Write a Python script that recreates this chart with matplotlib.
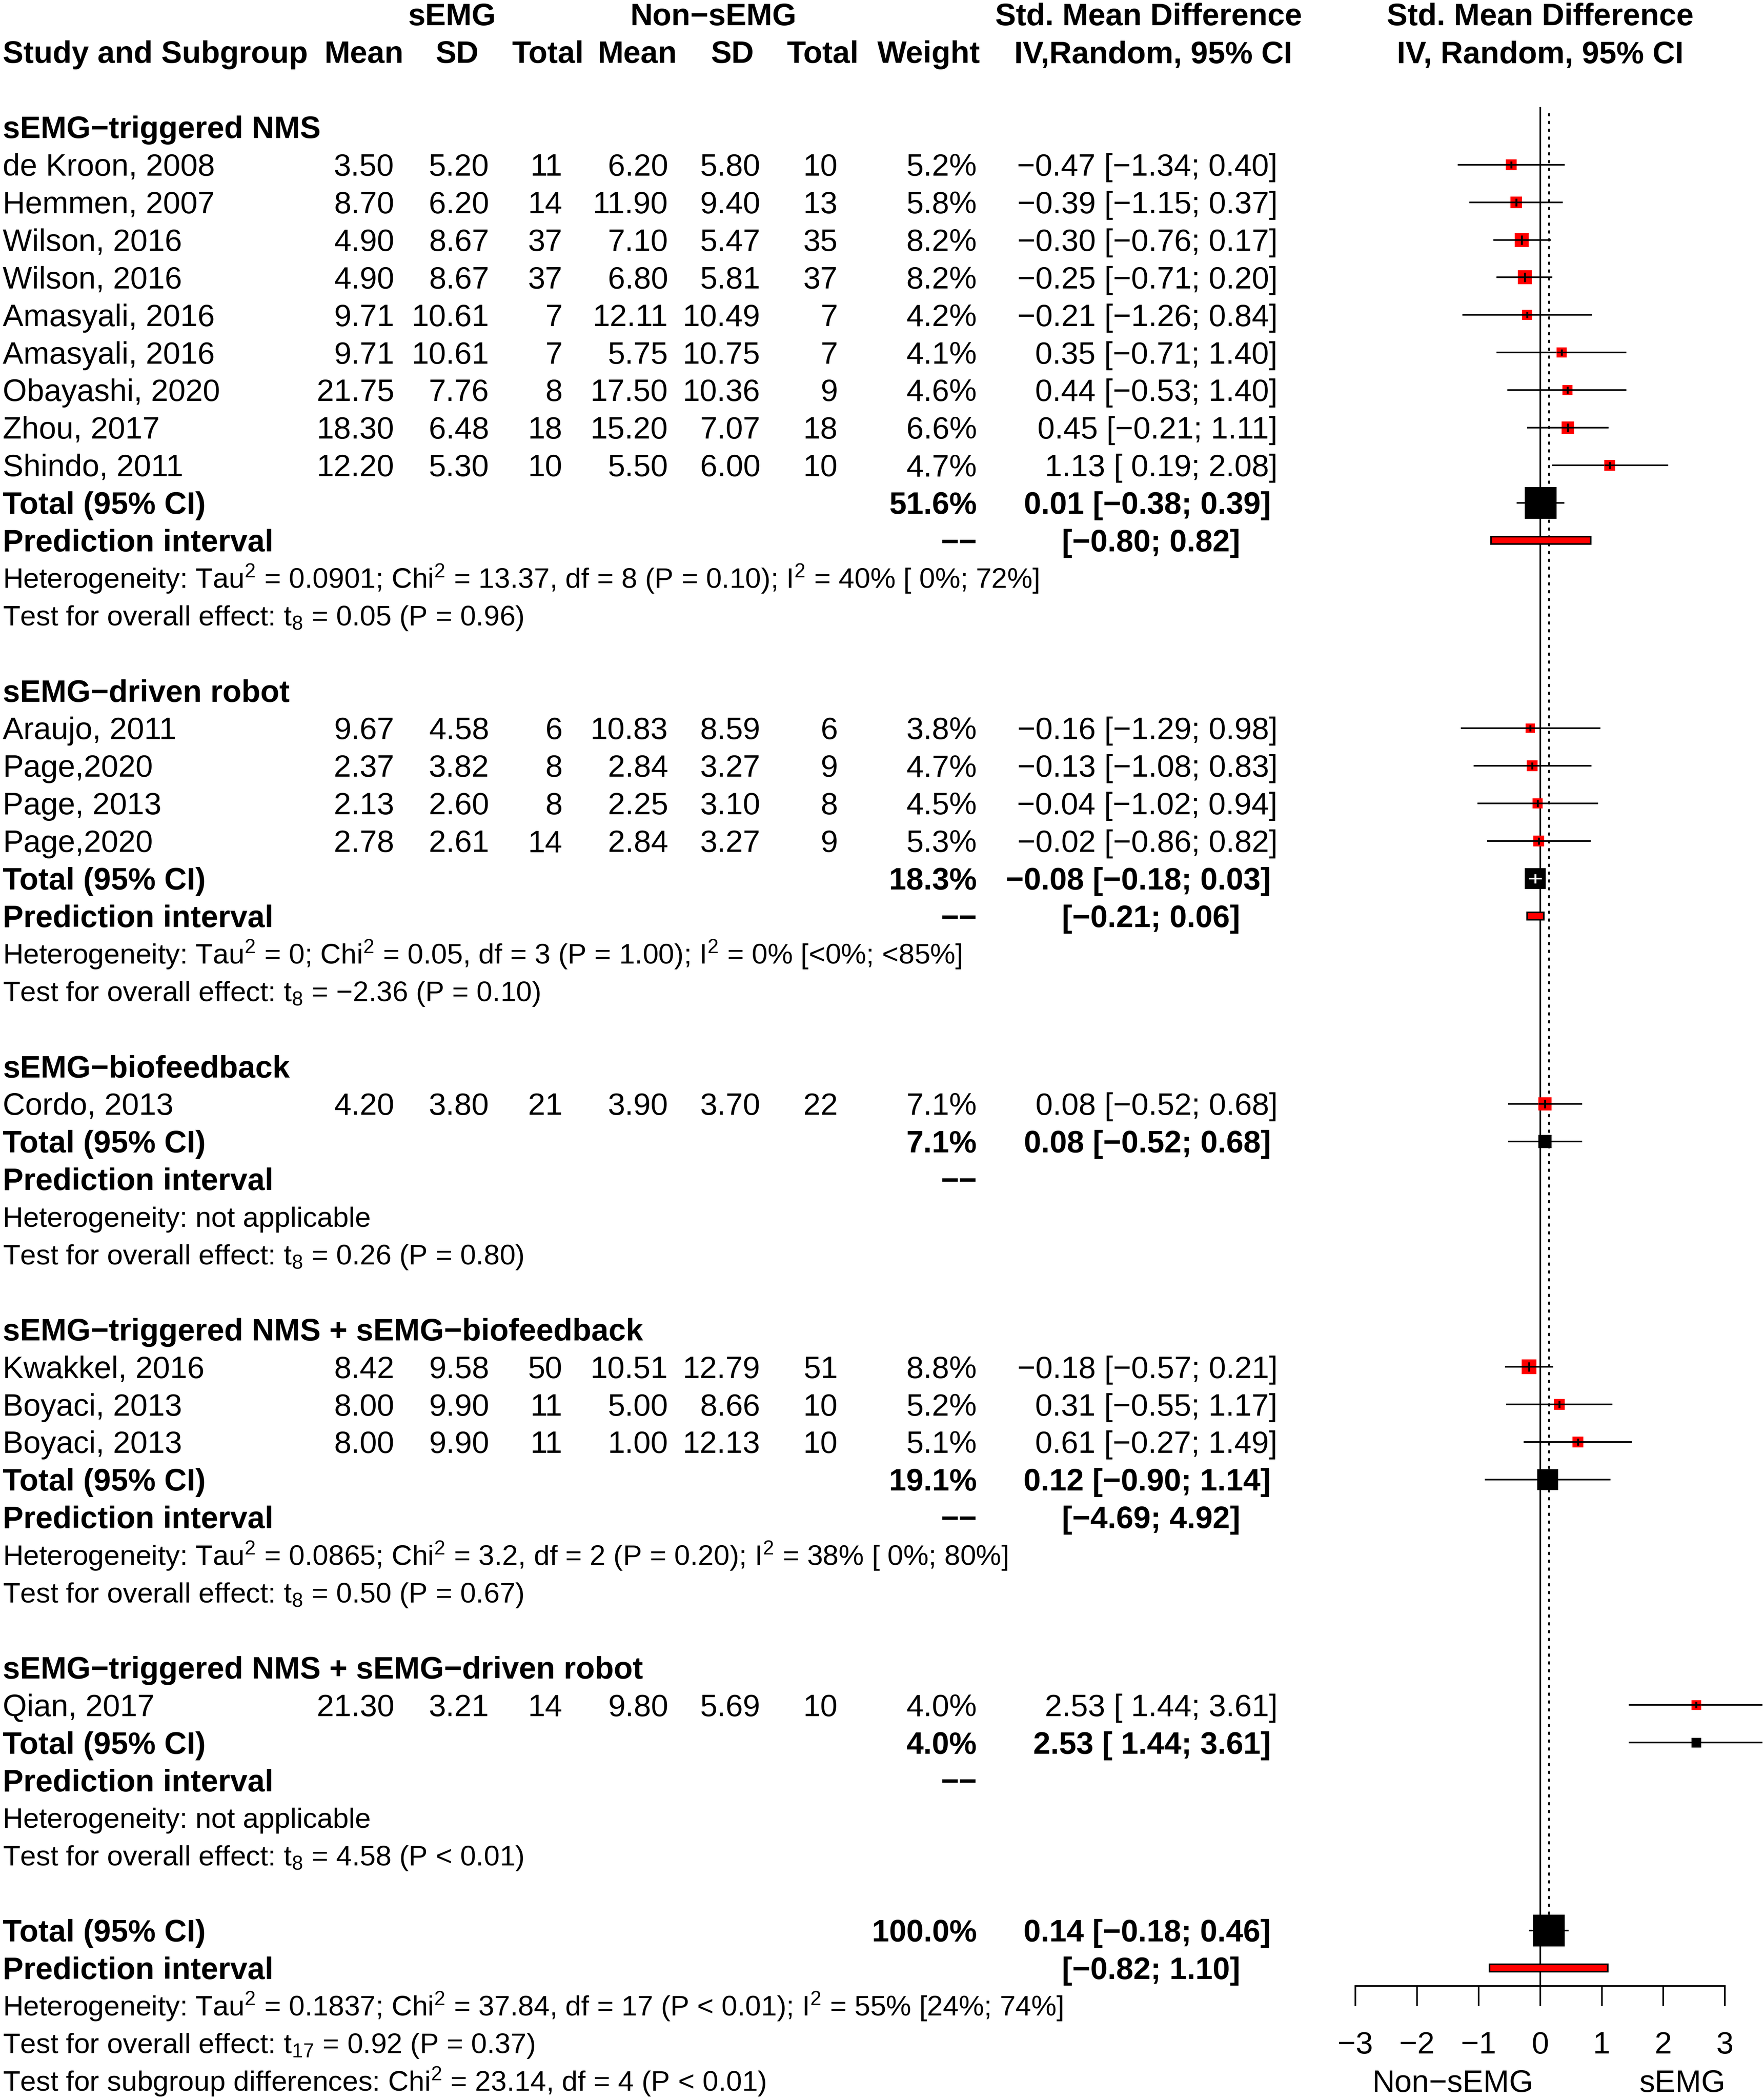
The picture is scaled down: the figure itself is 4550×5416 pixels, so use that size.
import math
import matplotlib
matplotlib.use('Agg')
import matplotlib.pyplot as plt
from matplotlib.patches import Rectangle
from matplotlib import font_manager as fm

# ---------------- data ----------------
group_labels = ["sEMG−triggered NMS", "sEMG−driven robot", "sEMG−biofeedback",
                "sEMG−triggered NMS + sEMG−biofeedback",
                "sEMG−triggered NMS + sEMG−driven robot"]

study_labels = ["de Kroon, 2008", "Hemmen, 2007", "Wilson, 2016", "Wilson, 2016",
                "Amasyali, 2016", "Amasyali, 2016", "Obayashi, 2020", "Zhou, 2017",
                "Shindo, 2011",
                "Araujo, 2011", "Page,2020", "Page, 2013", "Page,2020",
                "Cordo, 2013",
                "Kwakkel, 2016", "Boyaci, 2013", "Boyaci, 2013",
                "Qian, 2017"]
study_group = [0, 0, 0, 0, 0, 0, 0, 0, 0, 1, 1, 1, 1, 2, 3, 3, 3, 4]

semg_mean = [3.50, 8.70, 4.90, 4.90, 9.71, 9.71, 21.75, 18.30, 12.20,
             9.67, 2.37, 2.13, 2.78, 4.20, 8.42, 8.00, 8.00, 21.30]
semg_sd = [5.20, 6.20, 8.67, 8.67, 10.61, 10.61, 7.76, 6.48, 5.30,
           4.58, 3.82, 2.60, 2.61, 3.80, 9.58, 9.90, 9.90, 3.21]
semg_n = [11, 14, 37, 37, 7, 7, 8, 18, 10, 6, 8, 8, 14, 21, 50, 11, 11, 14]
ctrl_mean = [6.20, 11.90, 7.10, 6.80, 12.11, 5.75, 17.50, 15.20, 5.50,
             10.83, 2.84, 2.25, 2.84, 3.90, 10.51, 5.00, 1.00, 9.80]
ctrl_sd = [5.80, 9.40, 5.47, 5.81, 10.49, 10.75, 10.36, 7.07, 6.00,
           8.59, 3.27, 3.10, 3.27, 3.70, 12.79, 8.66, 12.13, 5.69]
ctrl_n = [10, 13, 35, 37, 7, 7, 9, 18, 10, 6, 9, 8, 9, 22, 51, 10, 10, 10]
weight = [5.2, 5.8, 8.2, 8.2, 4.2, 4.1, 4.6, 6.6, 4.7,
          3.8, 4.7, 4.5, 5.3, 7.1, 8.8, 5.2, 5.1, 4.0]
smd = [-0.47, -0.39, -0.30, -0.25, -0.21, 0.35, 0.44, 0.45, 1.13,
       -0.16, -0.13, -0.04, -0.02, 0.08, -0.18, 0.31, 0.61, 2.53]
smd_lo = [-1.34, -1.15, -0.76, -0.71, -1.26, -0.71, -0.53, -0.21, 0.19,
          -1.29, -1.08, -1.02, -0.86, -0.52, -0.57, -0.55, -0.27, 1.44]
smd_hi = [0.40, 0.37, 0.17, 0.20, 0.84, 1.40, 1.40, 1.11, 2.08,
          0.98, 0.83, 0.94, 0.82, 0.68, 0.21, 1.17, 1.49, 3.61]

sub_weight = [51.6, 18.3, 7.1, 19.1, 4.0]
sub_smd = [0.01, -0.08, 0.08, 0.12, 2.53]
sub_lo = [-0.38, -0.18, -0.52, -0.90, 1.44]
sub_hi = [0.39, 0.03, 0.68, 1.14, 3.61]
sub_pi_lo = [-0.80, -0.21, None, -4.69, None]
sub_pi_hi = [0.82, 0.06, None, 4.92, None]
sub_het = [
    "Heterogeneity: Tau$^2$ = 0.0901; Chi$^2$ = 13.37, df = 8 (P = 0.10); I$^2$ = 40% [ 0%; 72%]",
    "Heterogeneity: Tau$^2$ = 0; Chi$^2$ = 0.05, df = 3 (P = 1.00); I$^2$ = 0% [<0%; <85%]",
    "Heterogeneity: not applicable",
    "Heterogeneity: Tau$^2$ = 0.0865; Chi$^2$ = 3.2, df = 2 (P = 0.20); I$^2$ = 38% [ 0%; 80%]",
    "Heterogeneity: not applicable",
]
sub_test = [
    "Test for overall effect: t$_8$ = 0.05 (P = 0.96)",
    "Test for overall effect: t$_8$ = −2.36 (P = 0.10)",
    "Test for overall effect: t$_8$ = 0.26 (P = 0.80)",
    "Test for overall effect: t$_8$ = 0.50 (P = 0.67)",
    "Test for overall effect: t$_8$ = 4.58 (P < 0.01)",
]

overall_weight = 100.0
overall_smd = 0.14
overall_lo = -0.18
overall_hi = 0.46
overall_pi_lo = -0.82
overall_pi_hi = 1.10
overall_het = "Heterogeneity: Tau$^2$ = 0.1837; Chi$^2$ = 37.84, df = 17 (P < 0.01); I$^2$ = 55% [24%; 74%]"
overall_test = "Test for overall effect: t$_{17}$ = 0.92 (P = 0.37)"
subgroup_test = "Test for subgroup differences: Chi$^2$ = 23.14, df = 4 (P < 0.01)"

x_ticks = [-3, -2, -1, 0, 1, 2, 3]
label_left = "Non−sEMG"
label_right = "sEMG"

# ---------------- styling / layout ----------------
W_PX, H_PX, DPI = 4550, 5416, 300
SC = 4550 / 1320.0          # layout units -> output pixels
W = 1320.0
H = H_PX / SC
FS = 19.2
FS_HET = 17.6
LW = 1.0

names = {f.name for f in fm.fontManager.ttflist}
FONT = 'Liberation Sans' if 'Liberation Sans' in names else 'DejaVu Sans'
plt.rcParams['font.family'] = [FONT, 'DejaVu Sans']
plt.rcParams['mathtext.fontset'] = 'custom'
plt.rcParams['mathtext.rm'] = FONT
plt.rcParams['mathtext.it'] = FONT + ':italic'
plt.rcParams['mathtext.bf'] = FONT + ':bold'
plt.rcParams['mathtext.default'] = 'regular'
plt.rcParams['axes.unicode_minus'] = True

fig = plt.figure(figsize=(W_PX / DPI, H_PX / DPI), dpi=DPI)
fig.patch.set_facecolor('white')

ax_t = fig.add_axes([0, 0, 1, 1])
ax_t.set_xlim(0, W)
ax_t.set_ylim(H, 0)
ax_t.axis('off')

X_M3, X_P3 = 1014.2, 1290.8
AX_BOTTOM = 1486.0
ax_f = fig.add_axes([X_M3 / W, 1 - AX_BOTTOM / H, (X_P3 - X_M3) / W, AX_BOTTOM / H])
ax_f.set_xlim(-3, 3)
ax_f.set_ylim(AX_BOTTOM, 0)
ax_f.patch.set_alpha(0)
for sp in ['top', 'left', 'right']:
    ax_f.spines[sp].set_visible(False)
ax_f.spines['bottom'].set_linewidth(LW)
ax_f.set_yticks([])
ax_f.set_xticks(x_ticks)
ax_f.set_xticklabels([("−" if v < 0 else "") + str(abs(v)) for v in x_ticks])
ax_f.tick_params(axis='x', direction='out', length=12.4, width=LW, pad=15.5,
                 labelsize=FS)

PX_PER_UNIT = (X_P3 - X_M3) / 6.0   # layout units per SMD unit
PT2LAY = DPI / 72.0 / SC            # points -> layout units


def row_y(i):
    return 10.8 + 28.11 * i


def f2(v):
    return f"{v:.2f}".replace('-', '−')


def ci_str(e, lo, hi):
    return f"{f2(e)} [{f'{lo:5.2f}'.replace('-', '−')}; {f2(hi)}]"


def txt(x, y, s, ha='left', bold=False, fs=FS):
    ax_t.text(x, y + 8.2 * fs / FS, s, ha=ha, va='baseline', fontsize=fs,
              fontweight='bold' if bold else 'normal', color='black')


# column positions (right edges for numbers)
C_MEAN1, C_SD1, C_N1 = 295, 366, 421
C_MEAN2, C_SD2, C_N2 = 500, 569, 627
C_W, C_CI, C_CI_B, C_PI = 731, 956, 951, 928


def marker(y, e, lo, hi, w, color):
    side = min(3.0 * math.sqrt(w), 19.7)
    hx = side * PT2LAY / 2.0 / PX_PER_UNIT
    ax_f.plot([lo, hi], [y, y], color='black', lw=LW, solid_capstyle='butt',
              clip_on=False, zorder=2)
    ax_f.plot([e], [y], marker='s', ms=side, mfc=color, mec=color, mew=0,
              ls='none', clip_on=False, zorder=3)
    inside = 'white' if (lo >= e - hx and hi <= e + hx) else 'black'
    if color != 'black' or inside == 'white':
        ax_f.plot([max(lo, e - hx), min(hi, e + hx)], [y, y], color=inside,
                  lw=LW, solid_capstyle='butt', clip_on=False, zorder=4)
        ax_f.plot([e], [y], marker='|', ms=min(0.66 * side, 5.8), mew=LW * 1.2,
                  color=inside, ls='none', clip_on=False, zorder=4)


def pred_bar(y, lo, hi):
    if lo is None or lo < -3 or hi > 3:
        return
    ax_f.add_patch(Rectangle((lo, y - 2.75), hi - lo, 5.5, facecolor='red',
                             edgecolor='black', lw=LW, zorder=3, clip_on=False))


# ---------------- header ----------------
y0, y1 = row_y(0), row_y(1)
txt(338, y0, "sEMG", 'center', True)
txt(533.7, y0, "Non−sEMG", 'center', True)
txt(859.6, y0, "Std. Mean Difference", 'center', True)
txt(2.1, y1, "Study and Subgroup", 'left', True)
for xc, s in [(272.4, "Mean"), (342.2, "SD"), (410, "Total"), (477, "Mean"),
              (548, "SD"), (615.6, "Total"), (695, "Weight"),
              (863, "IV,Random, 95% CI")]:
    txt(xc, y1, s, 'center', True)
ax_f.text(0, y0 + 8.2, "Std. Mean Difference", ha='center', va='baseline',
          fontsize=FS, fontweight='bold', clip_on=False)
ax_f.text(0, y1 + 8.2, "IV, Random, 95% CI", ha='center', va='baseline',
          fontsize=FS, fontweight='bold', clip_on=False)

# ---------------- body ----------------
i = 3
for g, glab in enumerate(group_labels):
    txt(2.1, row_y(i), glab, 'left', True)
    i += 1
    for k in range(len(study_labels)):
        if study_group[k] != g:
            continue
        y = row_y(i)
        txt(2.1, y, study_labels[k])
        txt(C_MEAN1, y, f2(semg_mean[k]), 'right')
        txt(C_SD1, y, f2(semg_sd[k]), 'right')
        txt(C_N1, y, str(semg_n[k]), 'right')
        txt(C_MEAN2, y, f2(ctrl_mean[k]), 'right')
        txt(C_SD2, y, f2(ctrl_sd[k]), 'right')
        txt(C_N2, y, str(ctrl_n[k]), 'right')
        txt(C_W, y, f"{weight[k]:.1f}%", 'right')
        txt(C_CI, y, ci_str(smd[k], smd_lo[k], smd_hi[k]), 'right')
        marker(y, smd[k], smd_lo[k], smd_hi[k], weight[k], 'red')
        i += 1
    y = row_y(i)
    txt(2.1, y, "Total (95% CI)", 'left', True)
    txt(C_W, y, f"{sub_weight[g]:.1f}%", 'right', True)
    txt(C_CI_B, y, ci_str(sub_smd[g], sub_lo[g], sub_hi[g]), 'right', True)
    marker(y, sub_smd[g], sub_lo[g], sub_hi[g], sub_weight[g], 'black')
    i += 1
    y = row_y(i)
    txt(2.1, y, "Prediction interval", 'left', True)
    txt(C_W, y, "−−", 'right', True)
    if sub_pi_lo[g] is not None:
        txt(C_PI, y, f"[{f2(sub_pi_lo[g])}; {f2(sub_pi_hi[g])}]", 'right', True)
    pred_bar(y, sub_pi_lo[g], sub_pi_hi[g])
    i += 1
    txt(2.1, row_y(i), sub_het[g], fs=FS_HET)
    i += 1
    txt(2.1, row_y(i), sub_test[g], fs=FS_HET)
    i += 2

# overall
y_tot = row_y(i)
txt(2.1, y_tot, "Total (95% CI)", 'left', True)
txt(C_W, y_tot, f"{overall_weight:.1f}%", 'right', True)
txt(C_CI_B, y_tot, ci_str(overall_smd, overall_lo, overall_hi), 'right', True)
marker(y_tot, overall_smd, overall_lo, overall_hi, overall_weight, 'black')
i += 1
y = row_y(i)
txt(2.1, y, "Prediction interval", 'left', True)
txt(C_PI, y, f"[{f2(overall_pi_lo)}; {f2(overall_pi_hi)}]", 'right', True)
pred_bar(y, overall_pi_lo, overall_pi_hi)
i += 1
txt(2.1, row_y(i), overall_het, fs=FS_HET)
i += 1
txt(2.1, row_y(i), overall_test, fs=FS_HET)
i += 1
txt(2.1, row_y(i), subgroup_test, fs=FS_HET)

# reference lines
ax_f.vlines(0, 80, AX_BOTTOM, color='black', lw=LW, zorder=1)
ax_f.plot([overall_smd, overall_smd], [85, y_tot], color='black', lw=1.1,
          dashes=(1, 3.4), dash_capstyle='round', zorder=1)

# axis side labels
ax_f.text(-1.42, 1557 + 8.2, label_left, ha='center', va='baseline', fontsize=FS,
          clip_on=False)
ax_f.text(2.31, 1557 + 8.2, label_right, ha='center', va='baseline', fontsize=FS,
          clip_on=False)

fig.savefig('out.png', dpi=DPI, facecolor='white')
